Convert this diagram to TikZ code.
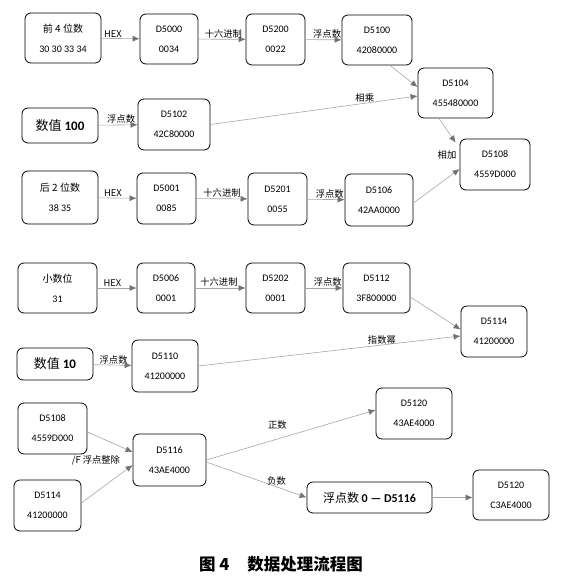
\documentclass[tikz,border=0pt]{standalone}
\usepackage{fontspec}
\setmainfont{Carlito}
\newfontfamily\cjk{Noto Sans CJK SC}
\usetikzlibrary{arrows.meta}
\tikzset{
  >={Latex[length=7pt,width=6pt,color=black!55]},
  reg/.style = {draw, thick, rounded corners=6pt, align=center,
                inner sep=0pt, font=\fontsize{10}{20}\selectfont},
  wh/.style 2 args = {minimum width=#1pt, minimum height=#2pt},
  big/.style = {reg, font=\cjk\fontsize{13}{15}\selectfont},
  flow/.style = {->, draw=black!35, line width=0.6pt},
  lab/.style = {font=\cjk\fontsize{9.3}{10}\selectfont, inner sep=1pt},
}
\begin{document}
\begin{tikzpicture}[x=1pt,y=-1pt]
\useasboundingbox (0,0) rectangle (567,584);
% first row
\node[reg,wh={76}{50}] (n4) at (63,38) {{\cjk 前 4 位数}\\30 30 33 34};
\node[reg,wh={58}{50}] (d5000) at (169,39) {D5000\\0034};
\node[reg,wh={59}{51}] (d5200) at (275.5,39.5) {D5200\\0022};
\node[reg,wh={70}{50}] (d5100) at (377,40) {D5100\\42080000};
\node[reg,wh={75}{50}] (d5104) at (455.5,93) {D5104\\455480000};
\node[reg,wh={70}{51}] (d5108) at (495,164.5) {D5108\\4559D000};
\node[big,wh={76}{35}] (v100) at (60,125.5) {数值 {\normalfont\bfseries 100}};
\node[reg,wh={72}{51}] (d5102) at (174,124.5) {D5102\\42C80000};
% second row
\node[reg,wh={76}{53}] (n2) at (60,197.5) {{\cjk 后 2 位数}\\38 35};
\node[reg,wh={59}{51}] (d5001) at (166.5,198.5) {D5001\\0085};
\node[reg,wh={59}{52}] (d5201) at (277.5,199) {D5201\\0055};
\node[reg,wh={68}{52}] (d5106) at (379,200) {D5106\\42AA0000};
% decimals
\node[reg,wh={79}{50}] (n1) at (57.5,288) {{\cjk 小数位}\\31};
\node[reg,wh={58}{50}] (d5006) at (166,288) {D5006\\0001};
\node[reg,wh={59}{50}] (d5202) at (275.5,288) {D5202\\0001};
\node[reg,wh={67}{50}] (d5112) at (376.5,288) {D5112\\3F800000};
\node[reg,wh={66}{51}] (d5114) at (494,331.5) {D5114\\41200000};
\node[big,wh={76}{32}] (v10) at (55,364) {数值 {\normalfont\bfseries 10}};
\node[reg,wh={66}{52}] (d5110) at (165,366) {D5110\\41200000};
% division and sign
\node[reg,wh={69}{51}] (e5108) at (52.5,428.5) {D5108\\4559D000};
\node[reg,wh={67}{51}] (e5114) at (47.5,505.5) {D5114\\41200000};
\node[reg,wh={73}{52}] (d5116) at (169.5,460) {D5116\\43AE4000};
\node[lab] (fdiv) at (96,460) {/F 浮点整除};
\node[reg,wh={76}{51}] (d5120a) at (414,413.5) {D5120\\43AE4000};
\node[big,wh={125}{31},font=\cjk\fontsize{12}{14}\selectfont] (neg) at (369.5,497.5)
  {浮点数 {\normalfont\bfseries 0 --- D5116}};
\node[reg,wh={76}{50}] (d5120b) at (511,495) {D5120\\C3AE4000};
\node[font=\cjk\bfseries\fontsize{16.5}{18}\selectfont] (cap) at (281,564)
  {图 4\hspace{18pt}数据处理流程图};

\path[flow] (n4) edge node[lab,above,pos=.3] {HEX} (d5000)
            (d5000) edge node[lab,above,pos=.53] {十六进制} (d5200)
            (d5200) edge node[lab,above,pos=.6] {浮点数} (d5100)
            (v100) edge node[lab,above,pos=.58] {浮点数} (d5102)
            (n2) edge node[lab,above,pos=.38] {HEX} (d5001)
            (d5001) edge node[lab,above,pos=.5] {十六进制} (d5201)
            (d5201) edge node[lab,above,pos=.6] {浮点数} (d5106)
            (n1) edge node[lab,above,pos=.38] {HEX} (d5006)
            (d5006) edge node[lab,above,pos=.47] {十六进制} (d5202)
            (d5202) edge node[lab,above,pos=.6] {浮点数} (d5112)
            (v10) edge node[lab,above,pos=.53] {浮点数} (d5110);
\draw[flow] ([xshift=13pt]d5100.south) -- ([yshift=6pt]d5104.west);
\draw[flow] (d5102.east) -- node[lab,above,pos=.745] {相乘} ([yshift=-3pt]d5104.west);
\draw[flow] ([xshift=-16.5pt]d5104.south) -- ([xshift=-4pt,yshift=-4pt]d5108.north west);
\draw[flow] ([yshift=-3pt]d5106.east) -- node[lab,at end,anchor=south east,xshift=-2pt,yshift=8pt] {相加}
            ([yshift=-4.5pt]d5108.west);
\draw[flow] ([yshift=-9pt]d5112.east) -- ([yshift=2pt]d5114.west);
\draw[flow] (d5110.east) -- node[lab,pos=.7,yshift=5pt] {指数幂} ([yshift=-4.5pt]d5114.west);
\draw[flow] ([yshift=-3.5pt]e5108.east) -- ([yshift=8pt]d5116.west);
\draw[flow] ([yshift=2.5pt]e5114.east) -- ([yshift=-5pt]d5116.west);
\draw[flow] (d5116.east) -- node[lab,above,pos=.42,yshift=8pt] {正数} ([yshift=3.5pt]d5120a.west);
\draw[flow] ([yshift=-2pt]d5116.east) -- node[lab,above,pos=.7] {负数} (neg.west);
\draw[flow] (neg.east) -- (d5120b.west |- neg.east);
\end{tikzpicture}
\end{document}
